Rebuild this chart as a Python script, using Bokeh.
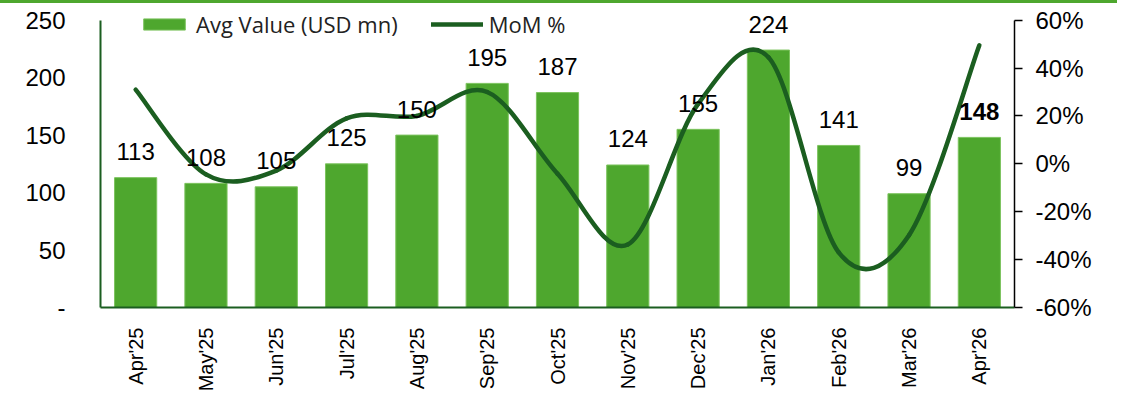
import math
from bokeh.plotting import figure
from bokeh.models import (Range1d, LinearAxis, FixedTicker, NumeralTickFormatter,
                          ColumnDataSource, Legend, LegendItem, Div)
from bokeh.layouts import column
from bokeh.core.properties import value
from bokeh.embed import file_html
from bokeh.resources import INLINE

months = ["Apr'25", "May'25", "Jun'25", "Jul'25", "Aug'25", "Sep'25", "Oct'25",
          "Nov'25", "Dec'25", "Jan'26", "Feb'26", "Mar'26", "Apr'26"]
avg_value = [113, 108, 105, 125, 150, 195, 187, 124, 155, 224, 141, 99, 148]
mom_pct = [0.31, -0.044, -0.028, 0.19, 0.20, 0.30, -0.041, -0.337, 0.25, 0.445,
           -0.37, -0.298, 0.495]
left_ticks = [0, 50, 100, 150, 200, 250]
right_ticks = [-0.6, -0.4, -0.2, 0.0, 0.2, 0.4, 0.6]

BAR = "#4EA72E"
LINE = "#1B5E20"
AXIS_FONT = "Liberation Sans"

n = len(months)
xs = list(range(n))

FIG_H = 391
FRAME_H = 310      # frame height in px
AXIS_H = 293       # px used by the 0..250 (and -60..60%) scale
head = (FRAME_H - AXIS_H) / AXIS_H

p = figure(width=1116, height=FIG_H, output_backend="svg", toolbar_location=None,
           x_range=Range1d(-0.5, n - 0.5),
           y_range=Range1d(0, left_ticks[-1] * (1 + head)),
           min_border_left=100, min_border_right=102, min_border_top=0,
           min_border_bottom=FIG_H - FRAME_H)
p.outline_line_color = None
p.xgrid.visible = False
p.ygrid.visible = False
p.background_fill_color = "white"
p.border_fill_color = "white"

p.extra_y_ranges = {"pct": Range1d(right_ticks[0],
                                   right_ticks[-1] + (right_ticks[-1] - right_ticks[0]) * head)}

# bars
src = ColumnDataSource(dict(x=xs, v=avg_value, lbl=[str(v) for v in avg_value],
                            style=["normal"] * (n - 1) + ["bold"]))
bars = p.vbar(x="x", top="v", width=0.6, source=src, fill_color=BAR,
              line_color="#7CC35E", line_width=1)

# smoothed MoM line (Catmull-Rom style bezier segments through data points)
def ctrl(vals):
    c0, c1 = [], []
    m = len(vals)
    for i in range(m - 1):
        prev = vals[i - 1] if i > 0 else vals[i]
        nxt2 = vals[i + 2] if i + 2 < m else vals[i + 1]
        c0.append(vals[i] + (vals[i + 1] - prev) / 6.0)
        c1.append(vals[i + 1] - (nxt2 - vals[i]) / 6.0)
    return c0, c1

cx0, cx1 = ctrl([float(x) for x in xs])
cy0, cy1 = ctrl(mom_pct)
bsrc = ColumnDataSource(dict(x0=xs[:-1], y0=mom_pct[:-1], x1=xs[1:], y1=mom_pct[1:],
                             cx0=cx0, cy0=cy0, cx1=cx1, cy1=cy1))
curve = p.bezier(x0="x0", y0="y0", x1="x1", y1="y1", cx0="cx0", cy0="cy0",
                 cx1="cx1", cy1="cy1", source=bsrc, line_color=LINE,
                 line_width=4.5, line_cap="round", y_range_name="pct")

# data labels
p.text(x="x", y="v", text="lbl", source=src, text_font=value(AXIS_FONT),
       text_font_size="24px", text_font_style="style", text_color="black",
       text_align="center", text_baseline="alphabetic", y_offset=-26)

# axes
ax = p.yaxis[0]
ax.ticker = FixedTicker(ticks=left_ticks)
ax.bounds = (left_ticks[0], left_ticks[-1])
ax.major_label_overrides = {0: "-"}
ax.major_tick_line_color = None
ax.minor_tick_line_color = None
ax.axis_line_color = LINE
ax.axis_line_width = 2
ax.major_label_standoff = 29
ax.major_label_text_font = AXIS_FONT
ax.major_label_text_font_size = "24px"
ax.major_label_text_color = "black"

ra = LinearAxis(y_range_name="pct", ticker=FixedTicker(ticks=right_ticks),
                formatter=NumeralTickFormatter(format="0%"),
                bounds=(right_ticks[0], right_ticks[-1]))
ra.axis_line_color = "black"
ra.axis_line_width = 1.5
ra.major_tick_line_color = "black"
ra.major_tick_line_width = 1.5
ra.major_tick_out = 8
ra.major_tick_in = 0
ra.minor_tick_line_color = None
ra.major_label_standoff = 13
ra.major_label_text_font = AXIS_FONT
ra.major_label_text_font_size = "24px"
ra.major_label_text_color = "black"
p.add_layout(ra, "right")

xa = p.xaxis[0]
xa.ticker = FixedTicker(ticks=xs)
xa.major_label_overrides = {i: m for i, m in enumerate(months)}
xa.major_label_orientation = math.pi / 2
xa.major_tick_line_color = None
xa.minor_tick_line_color = None
xa.axis_line_color = LINE
xa.axis_line_width = 2
xa.major_label_standoff = 14
xa.major_label_text_font = AXIS_FONT
xa.major_label_text_font_size = "20px"
xa.major_label_text_color = "black"

# legend
legend = Legend(items=[LegendItem(label="Avg Value (USD mn)", renderers=[bars]),
                       LegendItem(label="MoM %", renderers=[curve])],
                orientation="horizontal", location=(38, 268),
                background_fill_alpha=0, border_line_color=None,
                padding=0, margin=0, spacing=33, label_standoff=6,
                glyph_width=52, glyph_height=14, label_height=14,
                label_text_font="Open Sans", label_text_font_size="22px",
                label_text_color="#222222")
p.add_layout(legend, "center")

top_rule = Div(width=1117, height=3, margin=0,
               styles={"background-color": BAR})
layout = column(top_rule, p, spacing=0)

open("out.html", "w").write(file_html(layout, INLINE))
